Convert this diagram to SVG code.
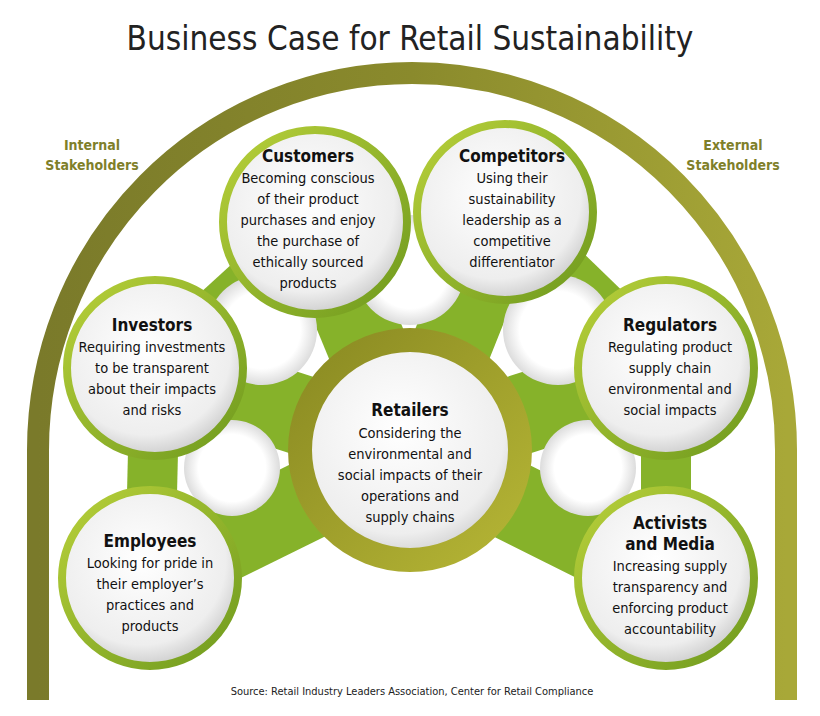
<svg xmlns="http://www.w3.org/2000/svg" width="820" height="716" viewBox="0 0 820 716">
<defs>
<radialGradient id="wg" cx="0.45" cy="0.4" r="0.6"><stop offset="0" stop-color="#ffffff"/><stop offset="0.8" stop-color="#eeeeee"/><stop offset="1" stop-color="#cfcfcf"/></radialGradient>
<radialGradient id="gap" cx="0.5" cy="0.5" r="0.5"><stop offset="0.7" stop-color="#ffffff"/><stop offset="1" stop-color="#dcdcdc"/></radialGradient>
<linearGradient id="ring" x1="0" y1="0" x2="1" y2="1"><stop offset="0" stop-color="#b8d03a"/><stop offset="1" stop-color="#6f9a1e"/></linearGradient>
<linearGradient id="cring" x1="0" y1="0" x2="1" y2="1"><stop offset="0" stop-color="#8a8a22"/><stop offset="1" stop-color="#b5b535"/></linearGradient>
<linearGradient id="arc" x1="0" y1="0" x2="1" y2="0"><stop offset="0" stop-color="#7a7a2a"/><stop offset="0.5" stop-color="#8a8a2c"/><stop offset="1" stop-color="#a8a838"/></linearGradient>
</defs>
<style>
text{font-family:"DejaVu Sans Condensed","Liberation Sans",sans-serif;text-anchor:middle;fill:#111}
.h{font-weight:bold;font-size:17px}
.b{font-size:14.5px}
.s{font-weight:bold;font-size:14px;fill:#7f7f2a}
.node{fill:url(#wg);stroke:url(#ring);stroke-width:8}
.arm{stroke:#86b22a;stroke-width:80;stroke-linecap:butt}
.link{stroke:#86b22a;stroke-width:50}
.gap{fill:url(#gap)}
</style>
<text x="410" y="50" style="font-size:33px;fill:#222">Business Case for Retail Sustainability</text>
<path d="M38,700 L38,450 A374,377 0 0 1 786,450 L786,700" fill="none" stroke="url(#arc)" stroke-width="22"/>
<text class="s" x="92" y="150">Internal</text><text class="s" x="92" y="170">Stakeholders</text>
<text class="s" x="733" y="150">External</text><text class="s" x="733" y="170">Stakeholders</text>
<g id="connectors">
<line class="arm" x1="410" y1="450" x2="315" y2="220"/>
<line class="arm" x1="410" y1="450" x2="505" y2="212"/>
<line class="arm" x1="410" y1="450" x2="155" y2="368"/>
<line class="arm" x1="410" y1="450" x2="666" y2="368"/>
<line class="arm" x1="410" y1="450" x2="150" y2="578"/>
<line class="arm" x1="410" y1="450" x2="666" y2="578"/>
<line class="link" x1="315" y1="222" x2="155" y2="368"/>
<line class="link" x1="155" y1="368" x2="150" y2="578"/>
<line class="link" x1="505" y1="212" x2="666" y2="368"/>
<line class="link" x1="666" y1="368" x2="666" y2="578"/>
<circle class="gap" cx="262" cy="330" r="55"/>
<circle class="gap" cx="232" cy="468" r="48"/>
<circle class="gap" cx="410" cy="270" r="55"/>
<circle class="gap" cx="558" cy="330" r="55"/>
<circle class="gap" cx="588" cy="468" r="48"/>
</g>
<g id="retailers"><circle cx="410" cy="450" r="110" fill="url(#wg)" stroke="url(#cring)" stroke-width="24"/>
<text class="h" x="410" y="416">Retailers</text>
<text class="b" x="410" y="438">Considering the</text><text class="b" x="410" y="459">environmental and</text><text class="b" x="410" y="480">social impacts of their</text><text class="b" x="410" y="501">operations and</text><text class="b" x="410" y="522">supply chains</text></g>
<g id="customers"><circle class="node" cx="315" cy="222" r="92"/>
<text class="h" x="308" y="162">Customers</text>
<text class="b" x="308" y="183">Becoming conscious</text><text class="b" x="308" y="204">of their product</text><text class="b" x="308" y="225">purchases and enjoy</text><text class="b" x="308" y="246">the purchase of</text><text class="b" x="308" y="267">ethically sourced</text><text class="b" x="308" y="288">products</text></g>
<g id="competitors"><circle class="node" cx="505" cy="212" r="88"/>
<text class="h" x="512" y="162">Competitors</text>
<text class="b" x="512" y="183">Using their</text><text class="b" x="512" y="204">sustainability</text><text class="b" x="512" y="225">leadership as a</text><text class="b" x="512" y="246">competitive</text><text class="b" x="512" y="267">differentiator</text></g>
<g id="investors"><circle class="node" cx="155" cy="368" r="88"/>
<text class="h" x="152" y="331">Investors</text>
<text class="b" x="152" y="352">Requiring investments</text><text class="b" x="152" y="373">to be transparent</text><text class="b" x="152" y="394">about their impacts</text><text class="b" x="152" y="415">and risks</text></g>
<g id="regulators"><circle class="node" cx="666" cy="368" r="88"/>
<text class="h" x="670" y="331">Regulators</text>
<text class="b" x="670" y="352">Regulating product</text><text class="b" x="670" y="373">supply chain</text><text class="b" x="670" y="394">environmental and</text><text class="b" x="670" y="415">social impacts</text></g>
<g id="employees"><circle class="node" cx="150" cy="578" r="88"/>
<text class="h" x="150" y="547">Employees</text>
<text class="b" x="150" y="568">Looking for pride in</text><text class="b" x="150" y="589">their employer’s</text><text class="b" x="150" y="610">practices and</text><text class="b" x="150" y="631">products</text></g>
<g id="activists"><circle class="node" cx="666" cy="578" r="88"/>
<text class="h" x="670" y="529">Activists</text><text class="h" x="670" y="550">and Media</text>
<text class="b" x="670" y="571">Increasing supply</text><text class="b" x="670" y="592">transparency and</text><text class="b" x="670" y="613">enforcing product</text><text class="b" x="670" y="634">accountability</text></g>
<text x="412" y="695" style="font-size:11px;fill:#222">Source: Retail Industry Leaders Association, Center for Retail Compliance</text>
</svg>
